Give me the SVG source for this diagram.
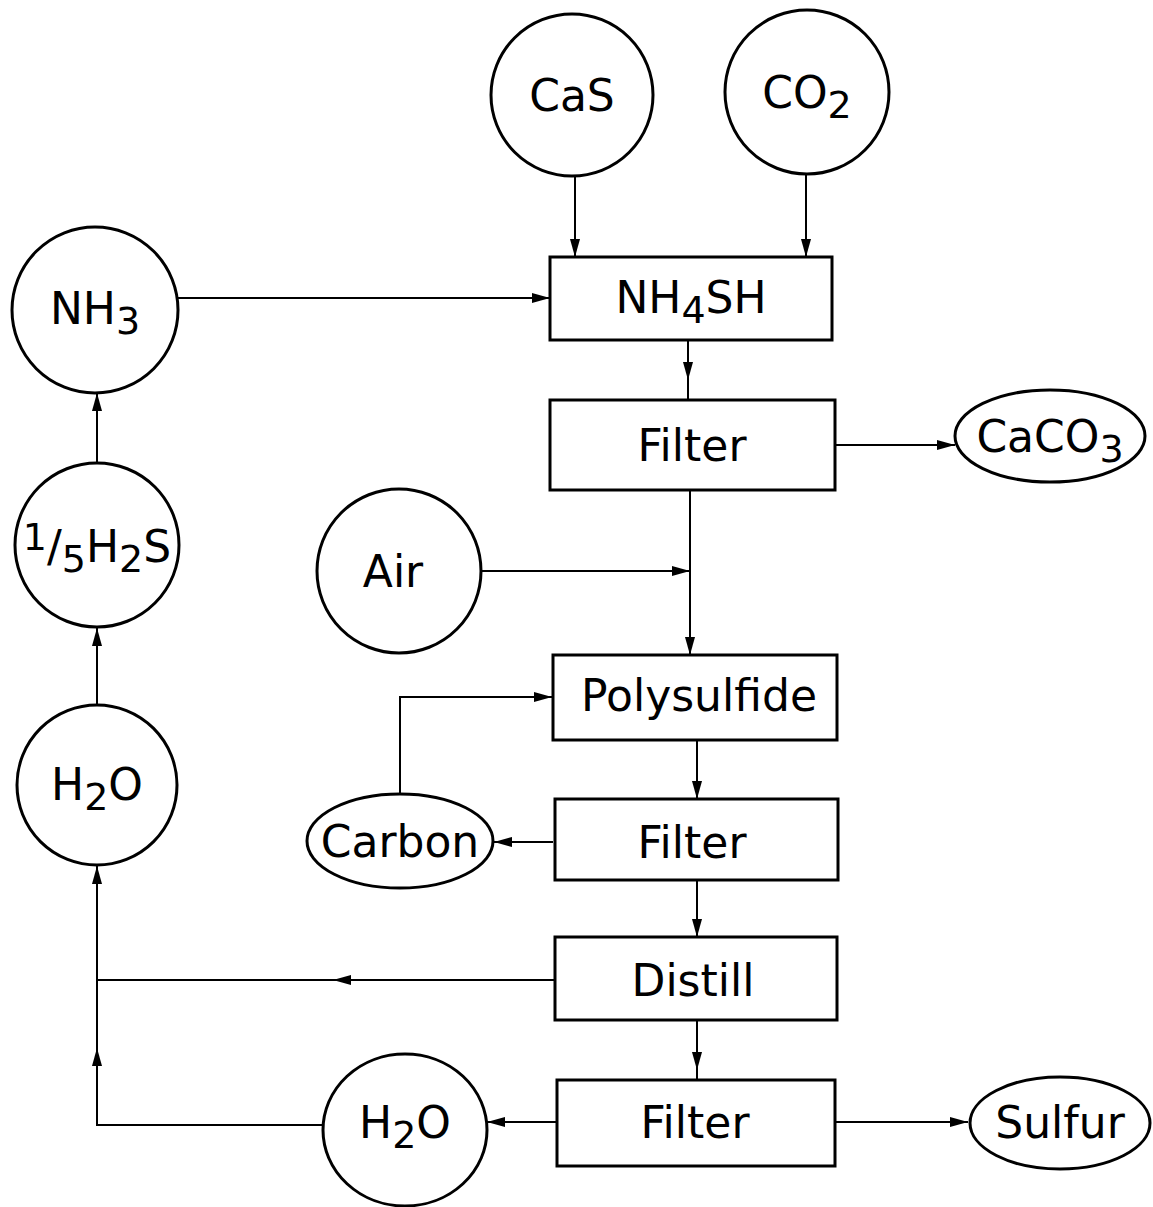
<svg xmlns="http://www.w3.org/2000/svg" width="1153" height="1207" viewBox="0 0 1153 1207">
<style>
.s{fill:none;stroke:#000;stroke-width:3}
.c{fill:none;stroke:#000;stroke-width:2}
.t{font-family:"DejaVu Sans","Liberation Sans",sans-serif;font-size:44px;fill:#000;text-anchor:middle}
.sub{font-size:38px}
</style>
<defs>
<marker id="a" markerUnits="userSpaceOnUse" markerWidth="18" markerHeight="10" refX="18" refY="5" orient="auto">
<path d="M0,0 L18,5 L0,10 z" fill="#000"/>
</marker>
</defs>
<rect width="1153" height="1207" fill="#fff"/>
<g id="connectors">
<path class="c" d="M575,176 V257" marker-end="url(#a)"/>
<path class="c" d="M806,174 V257" marker-end="url(#a)"/>
<path class="c" d="M178,298 H550" marker-end="url(#a)"/>
<path class="c" d="M688,340 V380" marker-end="url(#a)"/>
<path class="c" d="M688,378 V400"/>
<path class="c" d="M835,445 H955" marker-end="url(#a)"/>
<path class="c" d="M690,490 V655" marker-end="url(#a)"/>
<path class="c" d="M481,571 H690" marker-end="url(#a)"/>
<path class="c" d="M697,740 V799" marker-end="url(#a)"/>
<path class="c" d="M553,842 H494" marker-end="url(#a)"/>
<path class="c" d="M400,794 V697 H552" marker-end="url(#a)"/>
<path class="c" d="M697,880 V937" marker-end="url(#a)"/>
<path class="c" d="M697,1020 V1070" marker-end="url(#a)"/>
<path class="c" d="M697,1068 V1080"/>
<path class="c" d="M555,980 H333" marker-end="url(#a)"/>
<path class="c" d="M335,980 H97"/>
<path class="c" d="M557,1122 H487" marker-end="url(#a)"/>
<path class="c" d="M323,1125 H97 V1048" marker-end="url(#a)"/>
<path class="c" d="M97,1050 V866" marker-end="url(#a)"/>
<path class="c" d="M835,1122 H968" marker-end="url(#a)"/>
<path class="c" d="M97,705 V628" marker-end="url(#a)"/>
<path class="c" d="M97,462 V393" marker-end="url(#a)"/>
</g>
<g id="CaS"><circle class="s" cx="572" cy="95" r="81"/><text class="t" x="572" y="111">CaS</text></g>
<g id="CO2"><circle class="s" cx="807" cy="92" r="82"/><text class="t" x="807" y="108">CO<tspan class="sub" dy="10">2</tspan></text></g>
<g id="NH3"><circle class="s" cx="95" cy="310" r="83"/><text class="t" x="95" y="324">NH<tspan class="sub" dy="10">3</tspan></text></g>
<g id="H2S"><circle class="s" cx="97" cy="545" r="82"/><text class="t" x="97" y="562"><tspan class="sub" dy="-12">1</tspan><tspan dy="12">/</tspan><tspan class="sub" dy="10">5</tspan><tspan dy="-10">H</tspan><tspan class="sub" dy="10">2</tspan><tspan dy="-10">S</tspan></text></g>
<g id="H2O_1"><circle class="s" cx="97" cy="785" r="80"/><text class="t" x="97" y="800">H<tspan class="sub" dy="10">2</tspan><tspan dy="-10">O</tspan></text></g>
<g id="Air"><circle class="s" cx="399" cy="571" r="82"/><text class="t" x="393" y="587">Air</text></g>
<g id="H2O_2"><ellipse class="s" cx="405" cy="1130" rx="82" ry="76"/><text class="t" x="405" y="1138">H<tspan class="sub" dy="10">2</tspan><tspan dy="-10">O</tspan></text></g>
<g id="NH4SH"><rect class="s" x="550" y="257" width="282" height="83"/><text class="t" x="691" y="313">NH<tspan class="sub" dy="10">4</tspan><tspan dy="-10">SH</tspan></text></g>
<g id="Filter1"><rect class="s" x="550" y="400" width="285" height="90"/><text class="t" x="692" y="461">Filter</text></g>
<g id="CaCO3"><ellipse class="s" cx="1050" cy="436" rx="95" ry="46"/><text class="t" x="1050" y="452">CaCO<tspan class="sub" dy="10">3</tspan></text></g>
<g id="Polysulfide"><rect class="s" x="553" y="655" width="284" height="85"/><text class="t" x="699" y="711">Polysulfide</text></g>
<g id="Filter2"><rect class="s" x="555" y="799" width="283" height="81"/><text class="t" x="692" y="858">Filter</text></g>
<g id="Carbon"><ellipse class="s" cx="400" cy="841" rx="93" ry="47"/><text class="t" x="400" y="857">Carbon</text></g>
<g id="Distill"><rect class="s" x="555" y="937" width="282" height="83"/><text class="t" x="693" y="996">Distill</text></g>
<g id="Filter3"><rect class="s" x="557" y="1080" width="278" height="86"/><text class="t" x="695" y="1138">Filter</text></g>
<g id="Sulfur"><ellipse class="s" cx="1060" cy="1123" rx="90" ry="46"/><text class="t" x="1060" y="1138">Sulfur</text></g>
</svg>
